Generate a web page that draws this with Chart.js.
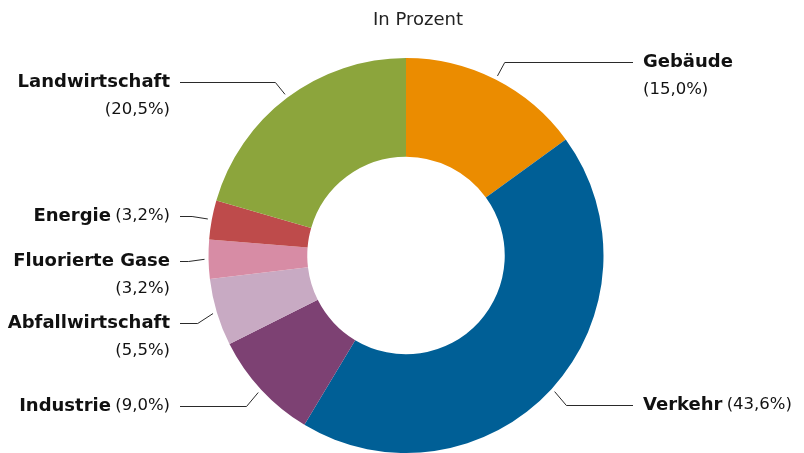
<!DOCTYPE html>
<html>
<head>
<meta charset="utf-8">
<script src="https://cdn.jsdelivr.net/npm/chart.js@4"></script>
<style>
  html, body { margin: 0; padding: 0; background: #fff; }
  #wrap { width: 804px; height: 453px; }
</style>
</head>
<body>
<div id="wrap"><canvas id="donut" width="804" height="453"></canvas></div>
<script>
'use strict';

// Anteile der Treibhausgasemissionen nach Sektor
const categories = ['Gebäude', 'Verkehr', 'Industrie', 'Abfallwirtschaft', 'Fluorierte Gase', 'Energie', 'Landwirtschaft'];
const shares     = [15.0, 43.6, 9.0, 5.5, 3.2, 3.2, 20.5];
const colors     = ['#eb8c00', '#005f96', '#7d4173', '#c8aac3', '#d78ca5', '#be4b4b', '#8ca53c'];
const titleText  = 'In Prozent';

const FONT = '"DejaVu Sans", sans-serif';

// label placement per slice: side, baseline y, name + percent on one line?
const labelLayout = [
  { side: 'right', y: 62,  inline: false },
  { side: 'right', y: 405, inline: true },
  { side: 'left',  y: 406, inline: true },
  { side: 'left',  y: 323, inline: false },
  { side: 'left',  y: 261, inline: false },
  { side: 'left',  y: 216, inline: true },
  { side: 'left',  y: 82,  inline: false }
];

const fmt = v => '(' + v.toFixed(1).replace('.', ',') + '%)';

const leaderLabels = {
  id: 'leaderLabels',
  afterDraw(chart) {
    const ctx = chart.ctx;
    const meta = chart.getDatasetMeta(0);
    const boldFont = '700 18px ' + FONT;
    const regFont = '400 16.5px ' + FONT;

    ctx.save();
    // title
    ctx.font = '400 18px ' + FONT;
    ctx.fillStyle = '#222';
    ctx.textAlign = 'center';
    ctx.textBaseline = 'middle';
    ctx.fillText(titleText, 418, 20);

    meta.data.forEach((arc, i) => {
      const p = arc.getProps(['x', 'y', 'startAngle', 'endAngle', 'outerRadius'], true);
      const mid = (p.startAngle + p.endAngle) / 2;
      const lay = labelLayout[i];
      const ax = p.x + Math.cos(mid) * (p.outerRadius + 4);
      const ay = p.y + Math.sin(mid) * (p.outerRadius + 4);
      const ex = p.x + Math.cos(mid) * (p.outerRadius + 20);
      const ey = lay.y + 0.5;   // crisp 1px horizontal
      const lineEnd = lay.side === 'right' ? 633 : 180;

      ctx.strokeStyle = '#2a2a2a';
      ctx.lineWidth = 1;
      ctx.beginPath();
      ctx.moveTo(ax, ay);
      ctx.lineTo(ex, ey);
      ctx.lineTo(lineEnd, ey);
      ctx.stroke();

      const name = categories[i];
      const pct = fmt(shares[i]);
      const ty = lay.y;
      ctx.textBaseline = 'middle';
      ctx.fillStyle = '#111';

      if (lay.side === 'right') {
        const tx = 643;
        ctx.textAlign = 'left';
        ctx.font = boldFont;
        ctx.fillText(name, tx, ty);
        ctx.font = regFont;
        if (lay.inline) {
          ctx.font = boldFont;
          const w = ctx.measureText(name + ' ').width;
          ctx.font = regFont;
          ctx.fillText(pct, tx + w - 2, ty);
        } else {
          ctx.fillText(pct, tx, ty + 28);
        }
      } else {
        const tx = 170;
        ctx.textAlign = 'right';
        if (lay.inline) {
          ctx.font = regFont;
          ctx.fillText(pct, tx, ty);
          const w = ctx.measureText(pct).width;
          ctx.font = boldFont;
          ctx.fillText(name + ' ', tx - w + 2, ty);
        } else {
          ctx.font = boldFont;
          ctx.fillText(name, tx, ty);
          ctx.font = regFont;
          ctx.fillText(pct, tx, ty + 28);
        }
      }
    });
    ctx.restore();
  }
};

new Chart(document.getElementById('donut'), {
  type: 'doughnut',
  data: {
    labels: categories,
    datasets: [{
      data: shares,
      backgroundColor: colors,
      borderWidth: 0,
      hoverOffset: 0
    }]
  },
  options: {
    responsive: false,
    animation: false,
    cutout: '50%',
    layout: { padding: { top: 58, bottom: 0, left: 8, right: 0 } },
    plugins: {
      legend: { display: false },
      tooltip: { enabled: false }
    }
  },
  plugins: [leaderLabels]
});
</script>
</body>
</html>
